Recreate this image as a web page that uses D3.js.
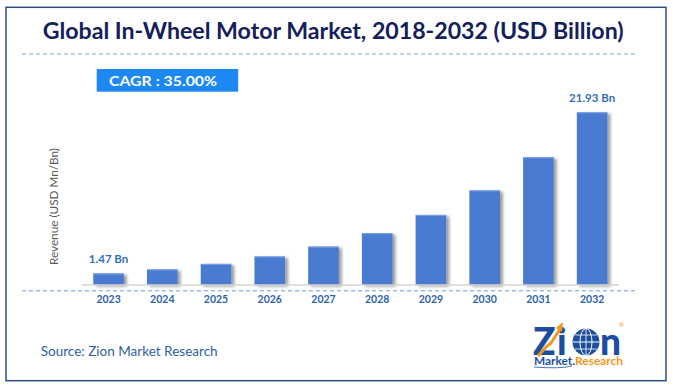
<!DOCTYPE html>
<html>
<head>
<meta charset="utf-8">
<script src="https://cdn.jsdelivr.net/npm/d3@7"></script>
<style>
  html, body { margin: 0; padding: 0; background: #fff; }
  svg { display: block; }
  text { font-family: Lato, "Open Sans", sans-serif; }
</style>
</head>
<body>
<script>
// ---- data ----
const years = ["2023", "2024", "2025", "2026", "2027", "2028", "2029", "2030", "2031", "2032"];
const revenue = [1.47, 1.98, 2.68, 3.62, 4.88, 6.59, 8.90, 12.01, 16.22, 21.93];
const valueLabels = ["1.47 Bn", "", "", "", "", "", "", "", "", "21.93 Bn"];
const titleText = "Global In-Wheel Motor Market, 2018-2032 (USD Billion)";
const cagrText = "CAGR : 35.00%";
const yAxisTitle = "Revenue (USD Mn/Bn)";
const sourceText = "Source: Zion Market Research";

const W = 673, H = 388;
const svg = d3.select("body").append("svg").attr("width", W).attr("height", H);

const defs = svg.append("defs");
const f = defs.append("filter").attr("id", "shadow").attr("x", "-20%").attr("y", "-20%").attr("width", "150%").attr("height", "140%");
f.append("feDropShadow").attr("dx", 3).attr("dy", 1.5).attr("stdDeviation", 1.6)
  .attr("flood-color", "#000").attr("flood-opacity", 0.38);

// frame
svg.append("rect").attr("x", 6).attr("y", 7.3).attr("width", 660).attr("height", 373.4)
  .attr("fill", "#fff").attr("stroke", "#2b4f7a").attr("stroke-width", 1.5);

// title
svg.append("text").attr("x", 42.7).attr("y", 39).attr("textLength", 581).attr("lengthAdjust", "spacingAndGlyphs")
  .attr("font-size", 22).attr("font-weight", 700).attr("fill", "#13205a").text(titleText);

// dashed line below title
svg.append("line").attr("x1", 22).attr("x2", 636).attr("y1", 54).attr("y2", 54)
  .attr("stroke", "#7ea2dc").attr("stroke-width", 1).attr("stroke-dasharray", "4,3");

// CAGR box
svg.append("rect").attr("x", 96.7).attr("y", 69).attr("width", 141.5).attr("height", 22.7).attr("fill", "#1d88f2");
svg.append("text").attr("x", 109).attr("y", 86).attr("textLength", 108).attr("lengthAdjust", "spacingAndGlyphs")
  .attr("font-size", 14).attr("font-weight", 700).attr("fill", "#fff").text(cagrText);

// scales
const x = d3.scaleBand().domain(years).range([81.7, 619]).paddingInner(0.43).paddingOuter(0.215);
const y = d3.scaleLinear().domain([0, 22]).range([285, 111.75]);

// bars
svg.append("g").attr("filter", "url(#shadow)")
  .selectAll("rect").data(years).join("rect")
  .attr("x", d => x(d)).attr("width", x.bandwidth())
  .attr("y", (d, i) => y(revenue[i])).attr("height", (d, i) => y(0) - y(revenue[i]))
  .attr("fill", "#4a7bd1");
// light top edge
svg.append("g").selectAll("line").data(years).join("line")
  .attr("x1", d => x(d)).attr("x2", d => x(d) + x.bandwidth())
  .attr("y1", (d, i) => y(revenue[i]) + 0.5).attr("y2", (d, i) => y(revenue[i]) + 0.5)
  .attr("stroke", "#7ea3e2").attr("stroke-width", 1);

// baseline
svg.append("line").attr("x1", 81.7).attr("x2", 619).attr("y1", 285).attr("y2", 285)
  .attr("stroke", "#d4d4d4").attr("stroke-width", 1.5);

// dashed line below axis
svg.append("line").attr("x1", 22).attr("x2", 637).attr("y1", 290.8).attr("y2", 290.8)
  .attr("stroke", "#6f9bd8").attr("stroke-width", 1).attr("stroke-dasharray", "4,3");

// x axis labels
const xAxis = svg.append("g").attr("transform", "translate(0,285)")
  .call(d3.axisBottom(x).tickSize(0).tickPadding(0));
xAxis.select(".domain").remove();
xAxis.selectAll("text").attr("y", 18.3).attr("dy", 0)
  .attr("font-family", "Lato, sans-serif").attr("font-size", 10.5).attr("font-weight", 700).attr("fill", "#2e63a8");

// value labels
svg.append("g").selectAll("text").data(years).join("text")
  .attr("x", d => x(d) + x.bandwidth() / 2).attr("y", (d, i) => y(revenue[i]) - 10)
  .attr("text-anchor", "middle").attr("font-size", 11.5).attr("font-weight", 700).attr("fill", "#3170b8")
  .text((d, i) => valueLabels[i]);

// y axis title
svg.append("text").attr("transform", "translate(57.5,206.5) rotate(-90)")
  .attr("text-anchor", "middle").attr("font-size", 12).attr("fill", "#5a5a5a")
  .attr("textLength", 117).attr("lengthAdjust", "spacingAndGlyphs").text(yAxisTitle);

// source
svg.append("text").attr("x", 40.7).attr("y", 356).attr("font-size", 13).attr("fill", "#2f5f9e")
  .attr("textLength", 177).attr("lengthAdjust", "spacingAndGlyphs").text(sourceText);

// logo
const logo = svg.append("g");
const blue = "#1b4f9e", orange = "#f7941d";
logo.append("text").attr("x", 533).attr("y", 355).attr("font-size", 37).attr("font-weight", 900).attr("fill", blue).text("Z");
logo.append("text").attr("x", 557).attr("y", 355).attr("font-size", 37).attr("font-weight", 900).attr("fill", blue).text("i");
logo.append("circle").attr("cx", 586).attr("cy", 342).attr("r", 13.5).attr("fill", blue);
logo.append("ellipse").attr("cx", 586).attr("cy", 342).attr("rx", 6).attr("ry", 13.5).attr("fill", "none").attr("stroke", "#fff").attr("stroke-width", 1);
logo.append("line").attr("x1", 572.5).attr("x2", 599.5).attr("y1", 342).attr("y2", 342).attr("stroke", "#fff").attr("stroke-width", 1);
logo.append("line").attr("x1", 575).attr("x2", 597).attr("y1", 335).attr("y2", 335).attr("stroke", "#fff").attr("stroke-width", 0.8);
logo.append("line").attr("x1", 575).attr("x2", 597).attr("y1", 349).attr("y2", 349).attr("stroke", "#fff").attr("stroke-width", 0.8);
logo.append("line").attr("x1", 586).attr("x2", 586).attr("y1", 328.5).attr("y2", 355.5).attr("stroke", "#fff").attr("stroke-width", 0.8);
logo.append("text").attr("x", 600).attr("y", 355).attr("font-size", 37).attr("font-weight", 900).attr("fill", blue).text("n");
logo.append("path").attr("d", "M538,356 L546,347 L551,343 L560,329").attr("fill", "none").attr("stroke", orange).attr("stroke-width", 3);
logo.append("path").attr("d", "M563,322 L556,328 L562,332 Z").attr("fill", orange);
logo.append("text").attr("x", 619).attr("y", 327).attr("font-size", 6).attr("fill", orange).text("®");
const lt = logo.append("text").attr("x", 534).attr("y", 365).attr("font-size", 11).attr("font-weight", 700)
  .attr("textLength", 89).attr("lengthAdjust", "spacingAndGlyphs");
lt.append("tspan").attr("fill", blue).text("Market.");
lt.append("tspan").attr("fill", orange).text("Research");
logo.append("path").attr("d", "M534,367 Q560,369 572,366").attr("fill", "none").attr("stroke", blue).attr("stroke-width", 0.8);
</script>
</body>
</html>
